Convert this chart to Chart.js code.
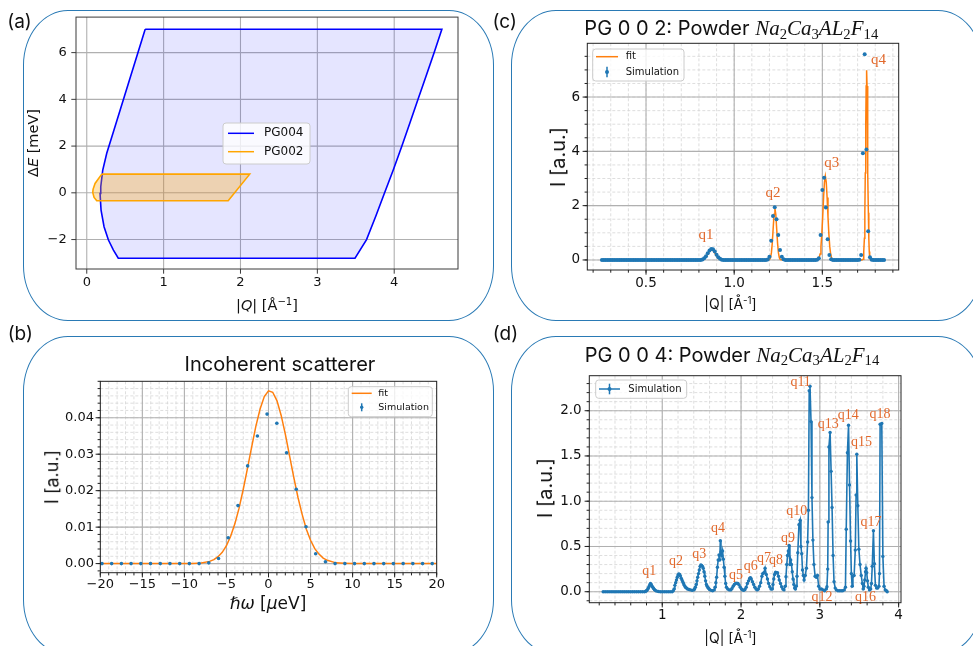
<!DOCTYPE html>
<html>
<head>
<meta charset="utf-8">
<script src="https://cdn.jsdelivr.net/npm/chart.js@4.4.0/dist/chart.umd.min.js"></script>
<style>
  body { margin: 0; background: #fff; }
  #fig { position: relative; width: 973px; height: 646px; overflow: hidden; background: #fff; }
  .box { position: absolute; box-sizing: border-box; border: 1.5px solid #2a7ab5; border-radius: 45px / 55px; }
  canvas { position: absolute; }
  .t { position: absolute; transform: translate(-50%, -50%); white-space: nowrap; color: #111; line-height: 1.2; }
  .r { transform: translate(-50%, -50%) rotate(-90deg); }
  .dj { font-family: 'DejaVu Sans'; }
  .in { font-family: 'Inter'; }
  .f { font-family: 'Liberation Serif'; font-style: italic; font-size: 21px; }
  .f span { font-style: normal; font-size: 70%; position: relative; top: 0.25em; }
  sup { font-size: 70%; vertical-align: baseline; position: relative; top: -0.5em; }
</style>
</head>
<body>
<div id="fig">
  <div class="box" style="left:23px;top:10px;width:471px;height:311px"></div>
  <div class="box" style="left:511px;top:10px;width:472px;height:311px"></div>
  <div class="box" style="left:23px;top:336px;width:471px;height:319px"></div>
  <div class="box" style="left:511px;top:336px;width:472px;height:319px"></div>

  <canvas id="ca" width="490" height="320" style="left:0;top:0"></canvas>
  <canvas id="cc" width="483" height="320" style="left:490px;top:0"></canvas>
  <canvas id="cb" width="490" height="326" style="left:0;top:320px"></canvas>
  <canvas id="cd" width="483" height="326" style="left:490px;top:320px"></canvas>

  <div class="t in" style="left:19.5px;top:22px;font-size:19px">(a)</div>
  <div class="t in" style="left:504.7px;top:22px;font-size:19px">(c)</div>
  <div class="t in" style="left:20.3px;top:334px;font-size:19px">(b)</div>
  <div class="t in" style="left:505.5px;top:334px;font-size:19px">(d)</div>

  <!-- (a) -->
  <div class="t dj" style="left:267px;top:306px;font-size:14.5px">|<i>Q</i>| [Å<sup>−1</sup>]</div>
  <div class="t dj r" style="left:34px;top:143px;font-size:14.5px">Δ<i>E</i> [meV]</div>

  <!-- (c) -->
  <div class="t in" style="left:731.3px;top:29px;font-size:20px">PG 0 0 2: Powder <span class="f">Na<span>2</span>Ca<span>3</span>AL<span>2</span>F<span>14</span></span></div>
  <div class="t in r" style="left:557.5px;top:157px;font-size:20px">I [a.u.]</div>
  <div class="t in" style="left:730.5px;top:304px;font-size:14px">|Q| [Å<sup>-1</sup>]</div>

  <!-- (b) -->
  <div class="t in" style="left:280px;top:364px;font-size:20px">Incoherent scatterer</div>
  <div class="t in r" style="left:52px;top:476.7px;font-size:18px">I [a.u.]</div>
  <div class="t dj" style="left:268px;top:602.5px;font-size:17px"><i>ℏω</i> [<i>μ</i>eV]</div>

  <!-- (d) -->
  <div class="t in" style="left:732px;top:355.5px;font-size:20px">PG 0 0 4: Powder <span class="f">Na<span>2</span>Ca<span>3</span>AL<span>2</span>F<span>14</span></span></div>
  <div class="t in r" style="left:544.8px;top:488.3px;font-size:20px">I [a.u.]</div>
  <div class="t in" style="left:730.5px;top:638px;font-size:14px">|Q| [Å<sup>-1</sup>]</div>
</div>

<script>
// ---------- (a) Q-E coverage of the two analysers ----------
const pg004Q = [0.76, 4.62, 4.52, 4.415, 4.31, 4.205, 4.10, 3.99, 3.875, 3.76, 3.64, 3.49,
                0.41, 0.347, 0.282, 0.225, 0.186, 0.173, 0.182, 0.208, 0.26, 0.347, 0.76];
const pg004E = [7.0, 7.0, 6.0, 5.0, 4.0, 3.0, 2.0, 1.0, 0.0, -1.0, -2.0, -2.8,
                -2.8, -2.45, -2.02, -1.45, -0.74, -0.03, 0.26, 0.97, 1.69, 2.61, 7.0];
const pg002Q = [0.195, 2.12, 1.84, 0.13, 0.095, 0.078, 0.082, 0.108, 0.195];
const pg002E = [0.8, 0.8, -0.34, -0.34, -0.2, 0.02, 0.15, 0.40, 0.8];
const aXTicks = [0, 1, 2, 3, 4];
const aYTicks = [-2, 0, 2, 4, 6];

// ---------- (b) incoherent scatterer ----------
const bSimE = [-19.80, -18.65, -17.49, -16.34, -15.18, -14.03, -12.87, -11.72, -10.56, -9.41, -8.25,
               -7.10, -5.94, -4.79, -3.63, -2.48, -1.32, -0.17, 0.99, 2.15, 3.30, 4.46, 5.61, 6.77,
               7.92, 9.08, 10.23, 11.39, 12.54, 13.70, 14.85, 16.01, 17.16, 18.32, 19.47];
const bSimI = [0, 0, 0, 0, 0, 0, 0, 0, 0, 0, 0,
               0.0002, 0.0014, 0.0071, 0.0159, 0.0268, 0.0350, 0.0410, 0.0385, 0.0304, 0.0204, 0.0101, 0.0027, 0.0005,
               0, 0, 0, 0, 0, 0, 0, 0, 0, 0, 0];
const bFitE = [-20, -10, -9, -8, -7, -6.5, -6, -5.5, -5, -4.5, -4, -3.5, -3, -2.5, -2, -1.5, -1, -0.5,
               0, 0.5, 1, 1.5, 2, 2.5, 3, 3.5, 4, 4.5, 5, 5.5, 6, 6.5, 7, 8, 9, 10, 20];
const bFitI = [0, 0, 0.00004, 0.00016, 0.0006, 0.0011, 0.0019, 0.0031, 0.0049, 0.0075, 0.0109, 0.0152, 0.0204,
               0.0261, 0.0320, 0.0377, 0.0424, 0.0458, 0.0474, 0.0470, 0.0447, 0.0407, 0.0355, 0.0296, 0.0237,
               0.0182, 0.0135, 0.0094, 0.0064, 0.0041, 0.0026, 0.0015, 0.0009, 0.0002, 0.0001, 0, 0];
const bXTicks = [-20, -15, -10, -5, 0, 5, 10, 15, 20];
const bYTicks = [0, 0.01, 0.02, 0.03, 0.04];

// ---------- (c) PG 0 0 2 powder ----------
const qC = [0.25, 0.26, 0.27, 0.28, 0.29, 0.30, 0.31, 0.32, 0.33, 0.34,
            0.35, 0.36, 0.37, 0.38, 0.39, 0.40, 0.41, 0.42, 0.43, 0.44,
            0.45, 0.46, 0.47, 0.48, 0.49, 0.50, 0.51, 0.52, 0.53, 0.54,
            0.55, 0.56, 0.57, 0.58, 0.59, 0.60, 0.61, 0.62, 0.63, 0.64,
            0.65, 0.66, 0.67, 0.68, 0.69, 0.70, 0.71, 0.72, 0.73, 0.74,
            0.75, 0.76, 0.77, 0.78, 0.79, 0.80, 0.81, 0.82, 0.83, 0.84,
            0.85, 0.86, 0.87, 0.88, 0.89, 0.90, 0.91, 0.92, 0.93, 0.94,
            0.95, 0.96, 0.97, 0.98, 0.99, 1.00, 1.01, 1.02, 1.03, 1.04,
            1.05, 1.06, 1.07, 1.08, 1.09, 1.10, 1.11, 1.12, 1.13, 1.14,
            1.15, 1.16, 1.17, 1.18, 1.19, 1.20, 1.21, 1.22, 1.23, 1.24,
            1.25, 1.26, 1.27, 1.28, 1.29, 1.30, 1.31, 1.32, 1.33, 1.34,
            1.35, 1.36, 1.37, 1.38, 1.39, 1.40, 1.41, 1.42, 1.43, 1.44,
            1.45, 1.46, 1.47, 1.48, 1.49, 1.50, 1.51, 1.52, 1.53, 1.54,
            1.55, 1.56, 1.57, 1.58, 1.59, 1.60, 1.61, 1.62, 1.63, 1.64,
            1.65, 1.66, 1.67, 1.68, 1.69, 1.70, 1.71, 1.72, 1.73, 1.74,
            1.75, 1.76, 1.77, 1.78, 1.79, 1.80, 1.81, 1.82, 1.83, 1.84,
            1.85];
const iC = [0, 0, 0, 0, 0, 0, 0, 0, 0, 0,
            0, 0, 0, 0, 0, 0, 0, 0, 0, 0,
            0, 0, 0, 0, 0, 0, 0, 0, 0, 0,
            0, 0, 0, 0, 0, 0, 0, 0, 0, 0,
            0, 0, 0, 0, 0, 0, 0, 0, 0, 0,
            0, 0, 0, 0, 0, 0, 0, 0.02, 0.06, 0.14,
            0.25, 0.35, 0.40, 0.39, 0.31, 0.19, 0.10, 0.04, 0.01, 0,
            0, 0, 0, 0, 0, 0, 0, 0, 0, 0,
            0, 0, 0, 0, 0, 0, 0, 0, 0, 0,
            0, 0, 0, 0, 0.02, 0.12, 0.71, 1.62, 1.94, 1.50,
            0.92, 0.37, 0.12, 0.03, 0, 0, 0, 0, 0, 0,
            0, 0, 0, 0, 0, 0, 0, 0, 0, 0,
            0, 0, 0.01, 0.06, 0.92, 2.58, 3.03, 1.93, 0.76, 0.18,
            0.03, 0, 0, 0, 0, 0, 0, 0, 0, 0,
            0, 0, 0, 0, 0, 0, 0.01, 0.18, 3.93, 7.58,
            4.07, 1.06, 0.10, 0.01, 0, 0, 0, 0, 0, 0,
            0];
const qFitC = [0.25, 0.80,
               0.812, 0.822, 0.832, 0.842, 0.852, 0.862, 0.872, 0.882, 0.892, 0.902, 0.912, 0.922, 0.932,
               0.95, 1.19,
               1.196, 1.201, 1.206, 1.211, 1.216, 1.221, 1.226, 1.231, 1.236, 1.241, 1.246, 1.251, 1.256, 1.261, 1.266,
               1.28, 1.465,
               1.472, 1.477, 1.482, 1.487, 1.492, 1.497, 1.502, 1.507, 1.512, 1.517, 1.522, 1.527, 1.532, 1.537, 1.542, 1.547, 1.552, 1.557, 1.562,
               1.575, 1.725,
               1.731, 1.7335, 1.736, 1.7385, 1.741, 1.7435, 1.746, 1.7485, 1.751, 1.7535, 1.756, 1.7585, 1.761, 1.7635, 1.766, 1.7685, 1.771,
               1.78, 1.85];
const iFitC = [0, 0,
               0.004, 0.017, 0.051, 0.123, 0.23, 0.335, 0.38, 0.335, 0.23, 0.123, 0.051, 0.017, 0.004,
               0, 0,
               0.004, 0.021, 0.083, 0.26, 0.62, 1.15, 1.68, 1.90, 1.68, 1.15, 0.62, 0.26, 0.083, 0.021, 0.004,
               0, 0,
               0.008, 0.027, 0.08, 0.22, 0.49, 0.95, 1.59, 2.30, 2.87, 3.09, 2.87, 2.30, 1.59, 0.95, 0.49, 0.22, 0.08, 0.027, 0.008,
               0, 0,
               0.027, 0.10, 0.31, 0.80, 1.74, 3.20, 4.94, 6.41, 6.99, 6.41, 4.94, 3.20, 1.74, 0.80, 0.31, 0.10, 0.027,
               0, 0];
const cPeakText = ['q1', 'q2', 'q3', 'q4'];
const cPeakQ = [0.840, 1.22, 1.554, 1.818];
const cPeakI = [0.90, 2.45, 3.56, 7.34];
const cXTicks = [0.5, 1.0, 1.5];
const cYTicks = [0, 2, 4, 6];

// ---------- (d) PG 0 0 4 powder ----------
const qD = [
  0.25, 0.275, 0.30, 0.325, 0.35, 0.375, 0.40, 0.425, 0.45, 0.475, 0.50, 0.525, 0.55, 0.575, 0.60, 0.625, 0.65, 0.675, 0.70, 0.725, 0.75, 0.775,
  0.79, 0.80, 0.81, 0.82, 0.83, 0.84, 0.85, 0.86, 0.87, 0.88, 0.89, 0.90, 0.91, 0.925, 0.95, 0.975,
  1.00, 1.025, 1.05, 1.075, 1.10, 1.125,
  1.14, 1.15, 1.16, 1.17, 1.18, 1.19, 1.20, 1.21, 1.22, 1.23, 1.24, 1.25, 1.26, 1.27, 1.28, 1.29, 1.30, 1.31, 1.32, 1.34, 1.36, 1.38,
  1.40, 1.41, 1.42, 1.43, 1.44, 1.45, 1.46, 1.47, 1.48, 1.49, 1.50, 1.51, 1.52, 1.53, 1.54, 1.55, 1.56, 1.57, 1.58, 1.59, 1.60, 1.62, 1.64,
  1.66, 1.67, 1.68, 1.69, 1.70, 1.71, 1.72, 1.73, 1.737, 1.745, 1.755, 1.765, 1.775, 1.785, 1.795, 1.805, 1.815, 1.83, 1.85,
  1.87, 1.885, 1.90, 1.915, 1.93, 1.945, 1.96, 1.975, 1.99, 2.005, 2.02, 2.035,
  2.05, 2.065, 2.08, 2.095, 2.11, 2.12, 2.13, 2.145, 2.16, 2.175, 2.19, 2.205,
  2.22, 2.235, 2.25, 2.265, 2.275, 2.29, 2.305, 2.32, 2.335, 2.35, 2.365, 2.38,
  2.395, 2.405, 2.415, 2.425, 2.438, 2.45, 2.463, 2.475, 2.485, 2.50, 2.515, 2.53, 2.545,
  2.56, 2.57, 2.58, 2.59, 2.60, 2.61, 2.62, 2.63, 2.64, 2.65, 2.66, 2.67, 2.68, 2.69,
  2.70, 2.71, 2.72, 2.735, 2.75, 2.76, 2.77, 2.78, 2.79, 2.80, 2.815, 2.83,
  2.845, 2.855, 2.865, 2.875, 2.888, 2.90, 2.912, 2.925, 2.94, 2.955, 2.97, 2.985, 3.00, 3.02, 3.04, 3.06, 3.08, 3.09,
  3.10, 3.105, 3.115, 3.13, 3.143, 3.155, 3.168, 3.18, 3.195, 3.21, 3.23, 3.25, 3.27, 3.29, 3.31, 3.325,
  3.335, 3.35, 3.364, 3.377, 3.39, 3.40, 3.41, 3.42, 3.435, 3.45, 3.46, 3.469, 3.482, 3.495, 3.51, 3.525, 3.54, 3.55,
  3.56, 3.57, 3.58, 3.586, 3.595, 3.605, 3.615, 3.63, 3.645, 3.655, 3.665, 3.68, 3.692, 3.705, 3.72, 3.735, 3.75, 3.757, 3.765, 3.786, 3.80, 3.815, 3.83, 3.845, 3.855
];
const iD = [
  0, 0, 0, 0, 0, 0, 0, 0, 0, 0, 0, 0, 0, 0, 0, 0, 0, 0, 0, 0, 0, 0,
  0.005, 0.01, 0.02, 0.035, 0.055, 0.075, 0.09, 0.08, 0.06, 0.05, 0.035, 0.025, 0.015, 0.008, 0.003, 0,
  0, 0, 0, 0, 0, 0,
  0.01, 0.03, 0.07, 0.10, 0.13, 0.16, 0.185, 0.195, 0.19, 0.175, 0.15, 0.13, 0.11, 0.09, 0.07, 0.055, 0.045, 0.04, 0.03, 0.025, 0.02, 0.015,
  0.02, 0.03, 0.05, 0.08, 0.12, 0.16, 0.20, 0.24, 0.28, 0.295, 0.29, 0.28, 0.26, 0.22, 0.17, 0.12, 0.08, 0.06, 0.045, 0.035, 0.025, 0.015, 0.01,
  0.02, 0.05, 0.10, 0.16, 0.27, 0.35, 0.405, 0.35, 0.564, 0.44, 0.40, 0.45, 0.36, 0.27, 0.17, 0.09, 0.05, 0.03, 0.02,
  0.02, 0.035, 0.06, 0.08, 0.09, 0.095, 0.09, 0.075, 0.05, 0.03, 0.02, 0.015,
  0.025, 0.05, 0.09, 0.12, 0.15, 0.155, 0.14, 0.11, 0.08, 0.05, 0.03, 0.02,
  0.03, 0.06, 0.10, 0.17, 0.20, 0.21, 0.26, 0.19, 0.14, 0.09, 0.055, 0.03,
  0.03, 0.08, 0.14, 0.19, 0.215, 0.21, 0.21, 0.17, 0.13, 0.09, 0.055, 0.03, 0.02,
  0.06, 0.165, 0.30, 0.40, 0.45, 0.51, 0.30, 0.35, 0.30, 0.22, 0.14, 0.08, 0.04, 0.03,
  0.06, 0.17, 0.43, 0.74, 0.79, 0.50, 0.42, 0.24, 0.18, 0.13, 0.18, 0.26,
  0.55, 0.90, 2.22, 2.27, 1.88, 1.04, 0.57, 0.30, 0.17, 0.16, 0.18, 0.06, 0.03, 0.03, 0.02, 0.01, 0.03, 0.055,
  0.25, 0.77, 1.60, 1.76, 1.33, 0.93, 0.40, 0.11, 0.04, 0.02, 0.01, 0.01, 0.01, 0.01, 0.02, 0.05,
  0.69, 1.535, 1.84, 1.18, 0.56, 0.20, 0.06, 0.17, 0.18, 0.46, 1.07, 1.52, 0.95, 0.47, 0.30, 0.18, 0.09, 0.03,
  0.06, 0.13, 0.22, 0.26, 0.21, 0.12, 0.05, 0.02, 0.03, 0.09, 0.28, 0.674, 0.31, 0.07, 0.04, 0.04, 0.06, 0.20, 1.85, 1.86, 0.39, 0.06, 0.02, 0.01, 0
];
const dPeakText = ['q1', 'q2', 'q3', 'q4', 'q5', 'q6', 'q7', 'q8', 'q9', 'q10', 'q11', 'q12', 'q13', 'q14', 'q15', 'q16', 'q17', 'q18'];
const dPeakQ = [0.835, 1.174, 1.47, 1.707, 1.935, 2.122, 2.29, 2.443, 2.595, 2.706, 2.756, 3.027, 3.107, 3.36, 3.53, 3.58, 3.65, 3.763];
const dPeakI = [0.215, 0.336, 0.405, 0.69, 0.18, 0.27, 0.36, 0.34, 0.59, 0.88, 2.31, -0.065, 1.85, 1.94, 1.645, -0.065, 0.76, 1.95];
const dXTicks = [1, 2, 3, 4];
const dYTicks = [0, 0.5, 1.0, 1.5, 2.0];

// ---------- helpers ----------
const BLUE = '#1f77b4', ORANGE = '#ff7f0e', NOTE = '#e2692c';
const pts = (xs, ys) => xs.map((x, i) => ({ x, y: ys[i] }));
function steps(a, b, s) {
  const out = [], n = Math.round((b - a) / s);
  for (let i = 0; i <= n; i++) out.push(+(a + i * s).toFixed(6));
  return out;
}
const fmt = d => v => (v < 0 ? '\u2212' : '') + Math.abs(v).toFixed(d);

function roundRect(ctx, x, y, w, h, r) {
  ctx.beginPath();
  ctx.moveTo(x + r, y);
  ctx.arcTo(x + w, y, x + w, y + h, r);
  ctx.arcTo(x + w, y + h, x, y + h, r);
  ctx.arcTo(x, y + h, x, y, r);
  ctx.arcTo(x, y, x + w, y, r);
  ctx.closePath();
}

function drawLegend(ctx, L) {
  ctx.save();
  roundRect(ctx, L.x, L.y, L.w, L.h, 3);
  ctx.fillStyle = 'rgba(255,255,255,0.8)';
  ctx.fill();
  ctx.strokeStyle = '#cccccc';
  ctx.lineWidth = 1;
  ctx.stroke();
  ctx.font = L.size + 'px "DejaVu Sans"';
  ctx.textBaseline = 'middle';
  ctx.textAlign = 'left';
  const mid = (L.hx0 + L.hx1) / 2;
  L.items.forEach(it => {
    ctx.strokeStyle = it.color;
    ctx.fillStyle = it.color;
    ctx.lineWidth = 1.5;
    if (it.kind !== 'err') {
      ctx.beginPath(); ctx.moveTo(L.hx0, it.y); ctx.lineTo(L.hx1, it.y); ctx.stroke();
    }
    if (it.kind !== 'line') {
      ctx.beginPath(); ctx.moveTo(mid, it.y - L.bar); ctx.lineTo(mid, it.y + L.bar); ctx.stroke();
      ctx.beginPath(); ctx.arc(mid, it.y, L.dot, 0, Math.PI * 2); ctx.fill();
    }
    ctx.fillStyle = '#111';
    ctx.fillText(it.label, L.tx, it.y);
  });
  ctx.restore();
}

// matplotlib-like frame: grid, spines, ticks, peak notes, legend
function frame(o) {
  return {
    id: 'mplFrame',
    beforeDatasetsDraw(chart) {
      const { ctx, chartArea: a, scales: { x, y } } = chart;
      ctx.save();
      ctx.beginPath();
      ctx.rect(a.left, a.top, a.right - a.left, a.bottom - a.top);
      ctx.clip();
      const vl = v => { const p = x.getPixelForValue(v); ctx.beginPath(); ctx.moveTo(p, a.top); ctx.lineTo(p, a.bottom); ctx.stroke(); };
      const hl = v => { const p = y.getPixelForValue(v); ctx.beginPath(); ctx.moveTo(a.left, p); ctx.lineTo(a.right, p); ctx.stroke(); };
      if (o.xMinor) {
        ctx.strokeStyle = '#d6d6d6';
        ctx.lineWidth = 0.8;
        ctx.setLineDash([3, 2]);
        o.xMinor.forEach(vl);
        o.yMinor.forEach(hl);
      }
      ctx.setLineDash([]);
      ctx.strokeStyle = '#b0b0b0';
      ctx.lineWidth = 1.1;
      o.xMajor.forEach(vl);
      o.yMajor.forEach(hl);
      ctx.restore();
    },
    afterDatasetsDraw(chart) {
      const { ctx, chartArea: a, scales: { x, y } } = chart;
      ctx.save();
      if (o.notes) {
        ctx.fillStyle = NOTE;
        ctx.font = o.notes.size + 'px "Liberation Serif"';
        ctx.textAlign = 'center';
        ctx.textBaseline = 'alphabetic';
        o.notes.text.forEach((t, i) =>
          ctx.fillText(t, x.getPixelForValue(o.notes.q[i]), y.getPixelForValue(o.notes.v[i]) + 0.23 * o.notes.size));
      }
      ctx.strokeStyle = o.spine || '#222';
      ctx.lineWidth = 1;
      ctx.strokeRect(a.left, a.top, a.right - a.left, a.bottom - a.top);
      const tx = (v, len) => { const p = x.getPixelForValue(v); ctx.beginPath(); ctx.moveTo(p, a.bottom); ctx.lineTo(p, a.bottom + len); ctx.stroke(); };
      const ty = (v, len) => { const p = y.getPixelForValue(v); ctx.beginPath(); ctx.moveTo(a.left, p); ctx.lineTo(a.left - len, p); ctx.stroke(); };
      if (o.xMinor) {
        o.xMinor.filter(v => v >= x.min && v <= x.max).forEach(v => tx(v, 2.7));
        o.yMinor.filter(v => v >= y.min && v <= y.max).forEach(v => ty(v, 2.7));
      }
      o.xMajor.forEach(v => tx(v, 4.7));
      o.yMajor.forEach(v => ty(v, 4.7));
      if (o.legend) drawLegend(ctx, o.legend);
      ctx.restore();
    }
  };
}

function makeChart(id, c) {
  const cv = document.getElementById(id);
  const W = cv.width, H = cv.height, A = c.area;
  const tickFont = { family: 'DejaVu Sans', size: c.fs };
  return new Chart(cv, {
    type: 'scatter',
    data: { datasets: c.datasets },
    options: {
      responsive: false,
      animation: false,
      devicePixelRatio: 1,
      layout: { padding: { left: 0, top: A.t, right: W - A.r, bottom: 0 } },
      plugins: { legend: { display: false }, tooltip: { enabled: false } },
      scales: {
        x: {
          type: 'linear', min: c.x[0], max: c.x[1],
          grid: { display: false, drawTicks: false }, border: { display: false },
          afterBuildTicks: s => { s.ticks = c.xTicks.map(v => ({ value: v })); },
          afterFit: s => { s.height = H - A.b; },
          ticks: { callback: c.fx, padding: c.padX, maxRotation: 0, autoSkip: false, color: '#111', font: tickFont }
        },
        y: {
          type: 'linear', min: c.y[0], max: c.y[1],
          grid: { display: false, drawTicks: false }, border: { display: false },
          afterBuildTicks: s => { s.ticks = c.yTicks.map(v => ({ value: v })); },
          afterFit: s => { s.width = A.l; },
          ticks: { callback: c.fy, padding: c.padY, autoSkip: false, color: '#111', font: tickFont }
        }
      }
    },
    plugins: [frame(c.frame)]
  });
}

// ---------- (a) ----------
makeChart('ca', {
  area: { l: 76, t: 17, r: 458, b: 269 },
  x: [-0.14, 4.83], y: [-3.26, 7.52],
  xTicks: aXTicks, yTicks: aYTicks, fx: fmt(0), fy: fmt(0), fs: 13, padX: 6.2, padY: 9.3,
  datasets: [
    { label: 'PG002', data: pts(pg002Q, pg002E), showLine: true, fill: 'shape', tension: 0,
      backgroundColor: 'rgba(255,165,0,0.3)', borderColor: '#ffa500', borderWidth: 1.6, pointRadius: 0, order: 0 },
    { label: 'PG004', data: pts(pg004Q, pg004E), showLine: true, fill: 'shape', tension: 0,
      backgroundColor: 'rgba(0,0,255,0.1)', borderColor: '#0000ff', borderWidth: 1.6, pointRadius: 0, order: 1 }
  ],
  frame: {
    xMajor: aXTicks, yMajor: aYTicks, spine: '#3a3a3a',
    legend: { x: 223, y: 123, w: 87, h: 41, size: 12, hx0: 228, hx1: 254, tx: 264, bar: 0, dot: 0,
      items: [{ kind: 'line', color: '#0000ff', label: 'PG004', y: 133.3 },
              { kind: 'line', color: '#ffa500', label: 'PG002', y: 151.7 }] }
  }
});

// ---------- (b) ----------
makeChart('cb', {
  area: { l: 100.3, t: 61.3, r: 436.7, b: 252.7 },
  x: [-20, 20], y: [-0.0025, 0.05],
  xTicks: bXTicks, yTicks: bYTicks, fx: fmt(0), fy: fmt(2), fs: 13, padX: 4.2, padY: 6.3,
  datasets: [
    { label: 'Simulation', data: pts(bSimE, bSimI), pointRadius: 1.8, pointBackgroundColor: BLUE, pointBorderWidth: 0, order: 0 },
    { label: 'fit', data: pts(bFitE, bFitI), showLine: true, borderColor: ORANGE, borderWidth: 1.5, pointRadius: 0, order: 1 }
  ],
  frame: {
    xMajor: bXTicks, yMajor: bYTicks, xMinor: steps(-20, 20, 1), yMinor: steps(-0.002, 0.05, 0.002),
    legend: { x: 348.3, y: 66.7, w: 84, h: 30, size: 9.5, hx0: 351.7, hx1: 371.7, tx: 378.3, bar: 4, dot: 1.7,
      items: [{ kind: 'line', color: ORANGE, label: 'fit', y: 73.3 },
              { kind: 'err', color: BLUE, label: 'Simulation', y: 87.3 }] }
  }
});

// ---------- (c) ----------
makeChart('cc', {
  area: { l: 97.3, t: 43.3, r: 408.7, b: 270 },
  x: [0.167, 1.933], y: [-0.37, 7.98],
  xTicks: cXTicks, yTicks: cYTicks, fx: fmt(1), fy: fmt(0), fs: 13.5, padX: 5.2, padY: 7.3,
  datasets: [
    { label: 'Simulation', data: pts(qC, iC), pointRadius: 2, pointBackgroundColor: BLUE, pointBorderWidth: 0, order: 0 },
    { label: 'fit', data: pts(qFitC, iFitC), showLine: true, borderColor: ORANGE, borderWidth: 1.5, pointRadius: 0, order: 1 }
  ],
  frame: {
    xMajor: cXTicks, yMajor: cYTicks, xMinor: steps(0.2, 1.9, 0.1), yMinor: steps(0, 7.5, 0.5),
    notes: { text: cPeakText, q: cPeakQ, v: cPeakI, size: 15 },
    legend: { x: 102.7, y: 49, w: 91.3, h: 32, size: 10, hx0: 106, hx1: 128, tx: 135.7, bar: 5.3, dot: 2,
      items: [{ kind: 'line', color: ORANGE, label: 'fit', y: 56.7 },
              { kind: 'err', color: BLUE, label: 'Simulation', y: 72 }] }
  }
});

// ---------- (d) ----------
makeChart('cd', {
  area: { l: 99.3, t: 55.7, r: 411, b: 282.7 },
  x: [0.074, 4.03], y: [-0.1215, 2.387],
  xTicks: dXTicks, yTicks: dYTicks, fx: fmt(0), fy: fmt(1), fs: 13.5, padX: 4.2, padY: 7.6,
  datasets: [
    { label: 'Simulation', data: pts(qD, iD), showLine: true, borderColor: BLUE, borderWidth: 1.6,
      pointRadius: 1.7, pointBackgroundColor: BLUE, pointBorderWidth: 0 }
  ],
  frame: {
    xMajor: dXTicks, yMajor: dYTicks, xMinor: steps(0.2, 4.0, 0.2), yMinor: steps(-0.1, 2.3, 0.1),
    notes: { text: dPeakText, q: dPeakQ, v: dPeakI, size: 14 },
    legend: { x: 105.7, y: 60, w: 91, h: 18.3, size: 10, hx0: 109, hx1: 130, tx: 138.3, bar: 5.3, dot: 2,
      items: [{ kind: 'errline', color: BLUE, label: 'Simulation', y: 69 }] }
  }
});
</script>
</body>
</html>
